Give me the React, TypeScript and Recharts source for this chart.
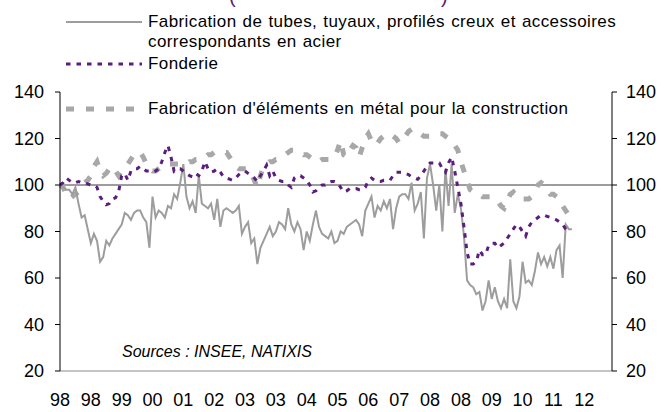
import React from 'react';
import {
  LineChart,
  Line,
  XAxis,
  YAxis,
  ReferenceLine,
  Legend,
} from 'recharts';

// monthly index, Jan 1998 = 0 ... axis runs to Dec 2012 (179)
const xTicks = [0, 10, 20, 30, 40, 50, 60, 70, 80, 90, 100, 110, 120, 130, 140, 150, 160, 170];
const xTickLabels = ['98', '98', '99', '00', '01', '02', '03', '03', '04', '05', '06', '07', '08', '08', '09', '10', '11', '12'];
const yTicks = [20, 40, 60, 80, 100, 120, 140];

// Fabrication de tubes, tuyaux, profilés creux...
const tubes = [
  100, 99, 98, 98, 96, 99, 92, 86, 87, 81,
  75, 79, 76, 67, 69, 76, 74, 77, 79, 81,
  83, 88, 87, 85, 88, 89, 89, 86, 84, 73,
  95, 86, 89, 88, 86, 91, 90, 96, 94, 101,
  109, 95, 90, 93, 88, 104, 92, 91, 90, 92,
  85, 94, 82, 89, 90, 89, 88, 89, 91, 79,
  82, 84, 75, 77, 66, 73, 76, 79, 82, 78,
  80, 84, 83, 81, 90, 83, 80, 84, 81, 72,
  80, 76, 83, 89, 82, 79, 78, 77, 80, 75,
  76, 80, 79, 82, 83, 84, 85, 83, 78, 89,
  92, 95, 86, 91, 89, 93, 90, 94, 81, 90,
  95, 96, 96, 94, 101, 89, 92, 97, 77, 103,
  109, 100, 89, 100, 80, 107, 91, 109, 88, 96,
  90, 78, 59, 57, 56, 53, 54, 46, 50, 59,
  51, 56, 50, 47, 51, 47, 68, 50, 47, 52,
  67, 58, 59, 57, 63, 71, 66, 69, 65, 69,
  64, 72, 74, 60, 83, 81, 81,
];

// Fonderie
const fonderie = [
  100, 101, 103, 102, 101, 101, 101.5, 101, 101, 100.5,
  100, 100, 99, 95, 93, 91.5, 92, 94, 94.5, 97,
  104, 105, 102, 106, 107, 107, 108, 107, 106, 106,
  105.5, 106, 107, 110, 114, 117, 112, 106, 107, 107,
  106, 105, 104, 103.5, 105, 104, 106, 110, 107, 105.5,
  106, 107, 105.5, 103.5, 103, 102.5, 102, 103, 104.5, 105.5,
  106, 105, 104, 103, 101.5, 104, 106, 108.5, 104, 106,
  103, 102, 101.5, 101.5, 100, 99, 103, 104, 104, 103,
  102, 100, 97, 97.5, 99, 100, 100, 101, 101.5, 101.5,
  101, 99, 97, 97.5, 98.5, 98.5, 98.5, 98, 98, 99,
  102, 103, 102, 101.5, 101.5, 102, 102, 102, 104, 105.5,
  105.5, 105.5, 105, 104.5, 103.5, 103, 102.5, 104, 106, 108,
  109.5, 109.5, 109.5, 109.5, 107, 105.5, 109.5, 112, 106, 99,
  92, 82, 71, 66, 66, 67, 72, 70, 70, 74,
  75, 75, 73, 74, 75, 77, 79, 81, 83, 82,
  80, 78, 82, 84, 85, 86, 87, 87, 86.5, 86,
  85.5, 85, 84, 83, 81, 80,
];

// Fabrication d'éléments en métal pour la construction
const construction = [
  100, 99, 96, 94, 95, 96, 97, 99, 101, 102,
  104, 108, 110, 106, 104, 105, 107, 108, 106, 104,
  106, 108, 109, 111, 113, 114, 114, 112, 109, 107,
  106, 106, 107, 108, 109, 109, 109, 109, 109, 109,
  109, 109, 110, 110, 111, 111, 112, 112, 113, 113,
  114, 114, 114, 114, 114, 112, 110, 108, 107, 107,
  107, 107, 105, 102, 99, 104, 108, 109, 110, 110,
  111, 111, 112, 113, 114, 115, 115, 115, 114, 113,
  113, 112, 111, 110, 110, 111, 111, 111, 111, 112,
  115, 119, 113, 112, 115, 117, 116, 112, 116, 120,
  122, 119, 117, 118, 120, 121, 122, 122, 121, 120,
  118, 119, 121, 123, 124, 124, 123, 122, 121, 121,
  121, 122, 122, 122, 122, 121, 120, 119, 117, 115,
  110, 106, 102, 98, 97, 96, 96, 95, 95, 95,
  95, 94, 93, 91, 90, 93, 96, 97, 95, 94,
  94, 94, 94, 95, 97, 100, 101, 100, 98, 96,
  96, 95, 94, 91, 89, 87,
];

const seriesNames = {
  tubes: 'Fabrication de tubes, tuyaux, profilés creux et accessoires correspondants en acier',
  fonderie: 'Fonderie',
  construction: "Fabrication d'éléments en métal pour la construction",
};

const colors = {
  tubes: '#9d9d9d',
  fonderie: '#5b1e7d',
  construction: '#a8a8a8',
  text: '#000000',
};

const data = tubes.map((v, i) => ({
  i,
  tubes: v,
  fonderie: fonderie[i] ?? null,
  construction: construction[i] ?? null,
}));

const legendStyle: Record<string, { top: number; width: number; dash?: string }> = {
  tubes: { top: 12, width: 2 },
  fonderie: { top: 54, width: 3, dash: '4.5 6' },
  construction: { top: 99, width: 5, dash: '8 12' },
};

function ChartLegend({ payload }: any) {
  return (
    <div style={{ position: 'relative', width: 667, height: 130 }}>
      {(payload || []).map((entry: any) => {
        const st = legendStyle[entry.dataKey];
        if (!st) return null;
        return (
          <div key={entry.dataKey} style={{ position: 'absolute', left: 0, top: st.top }}>
            <svg width={80} height={20} style={{ position: 'absolute', left: 64, top: 0 }}>
              <line
                x1={2}
                x2={78}
                y1={10}
                y2={10}
                stroke={entry.color}
                strokeWidth={st.width}
                strokeDasharray={st.dash}
              />
            </svg>
            <div
              style={{
                position: 'absolute',
                left: 148,
                top: 0,
                width: 500,
                fontSize: 17,
                lineHeight: '20px',
                letterSpacing: 0.4,
                wordSpacing: 1,
                color: colors.text,
                whiteSpace: 'normal',
              }}
            >
              {entry.value}
            </div>
          </div>
        );
      })}
    </div>
  );
}

export default function App() {
  return (
    <div
      style={{
        position: 'absolute',
        left: 0,
        top: 0,
        width: 667,
        height: 412,
        background: '#fff',
        overflow: 'hidden',
        fontFamily: '"Liberation Sans", Arial, sans-serif',
      }}
    >
      <LineChart
        width={667}
        height={412}
        data={data}
        margin={{ top: 92, right: 0, left: 0, bottom: 0 }}
      >
        <XAxis
          dataKey="i"
          type="number"
          domain={[0, 179]}
          ticks={xTicks}
          interval={0}
          tickFormatter={(v: number) => xTickLabels[xTicks.indexOf(v)]}
          height={41}
          tickLine={false}
          tickSize={0}
          tickMargin={22}
          axisLine={{ stroke: '#8a8a8a' }}
          tick={{ fontSize: 18, fill: colors.text }}
        />
        <YAxis
          yAxisId="left"
          domain={[20, 140]}
          ticks={yTicks}
          width={60}
          tickSize={5}
          tickMargin={11}
          axisLine={{ stroke: '#000' }}
          tickLine={{ stroke: '#000' }}
          tick={{ fontSize: 18, fill: colors.text }}
          allowDataOverflow
        />
        <YAxis
          yAxisId="right"
          orientation="right"
          domain={[20, 140]}
          ticks={yTicks}
          width={55}
          tickSize={5}
          tickMargin={9}
          axisLine={{ stroke: '#000' }}
          tickLine={{ stroke: '#000' }}
          tick={{ fontSize: 18, fill: colors.text, textAnchor: 'start' }}
          allowDataOverflow
        />
        <ReferenceLine yAxisId="left" y={100} stroke="#3a3a3a" strokeWidth={1} />
        <Legend
          layout="horizontal"
          verticalAlign="middle"
          align="center"
          content={<ChartLegend />}
          wrapperStyle={{ position: 'absolute', left: 0, top: 0, width: 667, height: 130, margin: 0, padding: 0 }}
        />
        <Line
          yAxisId="left"
          type="linear"
          dataKey="construction"
          name={seriesNames.construction}
          stroke={colors.construction}
          strokeWidth={5}
          strokeDasharray="8 12"
          dot={false}
          isAnimationActive={false}
        />
        <Line
          yAxisId="left"
          type="linear"
          dataKey="tubes"
          name={seriesNames.tubes}
          stroke={colors.tubes}
          strokeWidth={2}
          dot={false}
          isAnimationActive={false}
        />
        <Line
          yAxisId="left"
          type="linear"
          dataKey="fonderie"
          name={seriesNames.fonderie}
          stroke={colors.fonderie}
          strokeWidth={3}
          strokeDasharray="4.5 6"
          dot={false}
          isAnimationActive={false}
        />
      </LineChart>
      <svg
        width={667}
        height={412}
        style={{ position: 'absolute', left: 0, top: 0, pointerEvents: 'none' }}
      >
        <text x={229} y={3} fontSize={20} fill={colors.fonderie}>(</text>
        <text x={441} y={3} fontSize={20} fill={colors.fonderie}>)</text>
        <text x={122} y={357} fontSize={16} fontStyle="italic" fill={colors.text}>
          Sources : INSEE, NATIXIS
        </text>
      </svg>
    </div>
  );
}
